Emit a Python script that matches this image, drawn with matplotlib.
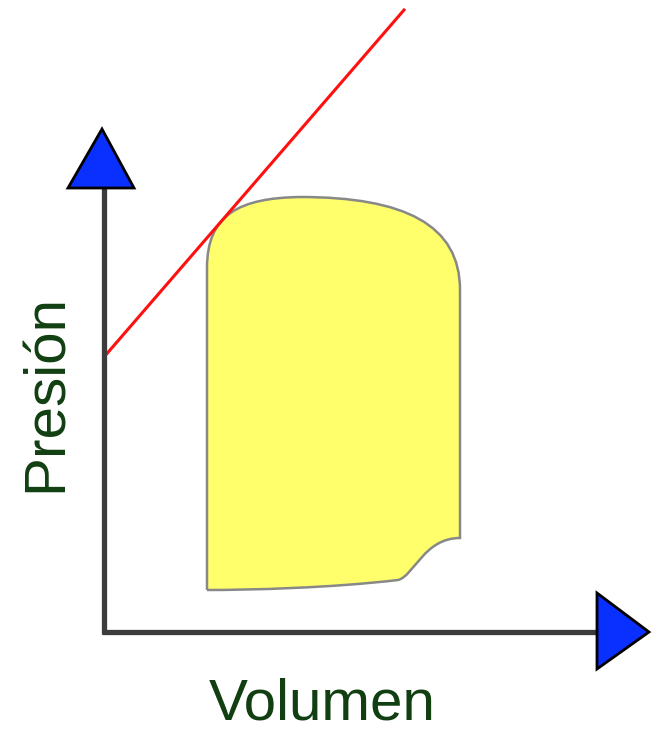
import matplotlib
matplotlib.use('Agg')
import matplotlib.pyplot as plt
from matplotlib.path import Path
from matplotlib.patches import PathPatch, Polygon

# diagram data, in picture pixels (y grows downward)
origin = (104, 632)
y_axis_top = 188
x_axis_right = 597
up_arrow = [(102, 129), (68, 188), (134, 188)]
right_arrow = [(649, 632), (597, 593), (597, 669)]

tangent_x = [104, 404]
tangent_y = [357, 10]

cycle_verts = [(207, 590), (207, 268),
               (207, 214), (240, 198), (300, 197),
               (405, 197), (460, 225), (460, 290),
               (460, 538),
               (424, 538), (414, 576), (398, 580),
               (330, 588), (250, 590), (207, 590)]
cycle_codes = [Path.MOVETO, Path.LINETO,
               Path.CURVE4, Path.CURVE4, Path.CURVE4,
               Path.CURVE4, Path.CURVE4, Path.CURVE4,
               Path.LINETO,
               Path.CURVE4, Path.CURVE4, Path.CURVE4,
               Path.CURVE4, Path.CURVE4, Path.CURVE4]

x_label = 'Volumen'
y_label = 'Presión'
text_color = '#123f12'

fig = plt.figure(figsize=(6.52, 7.32), dpi=100)
ax = fig.add_axes([0, 0, 1, 1])
ax.set_xlim(0, 652)
ax.set_ylim(732, 0)
ax.axis('off')

# yellow cycle
ax.add_patch(PathPatch(Path(cycle_verts, cycle_codes), facecolor='#ffff6c',
                       edgecolor='#888888', lw=1.8, zorder=2))

# tangent line
ax.plot(tangent_x, tangent_y, color='#ff1010', lw=2.2, zorder=3)

# axes
ax.plot([origin[0], origin[0]], [origin[1] + 2, y_axis_top], color='#3c3c3c', lw=3.8,
        solid_capstyle='butt', zorder=4)
ax.plot([origin[0] - 2, x_axis_right], [origin[1], origin[1]], color='#3c3c3c', lw=3.8,
        solid_capstyle='butt', zorder=4)
ax.add_patch(Polygon(up_arrow, closed=True, facecolor='#0a30ff', edgecolor='black',
                     lw=2, zorder=5))
ax.add_patch(Polygon(right_arrow, closed=True, facecolor='#0a30ff', edgecolor='black',
                     lw=2, zorder=5))

ax.text(322, 720, x_label, ha='center', va='baseline', fontsize=42,
        family='Liberation Sans', color=text_color)
ax.text(47, 393, y_label, ha='center', va='center', rotation=90, fontsize=42,
        family='Liberation Sans', color=text_color)

fig.savefig('out.png', dpi=100)
